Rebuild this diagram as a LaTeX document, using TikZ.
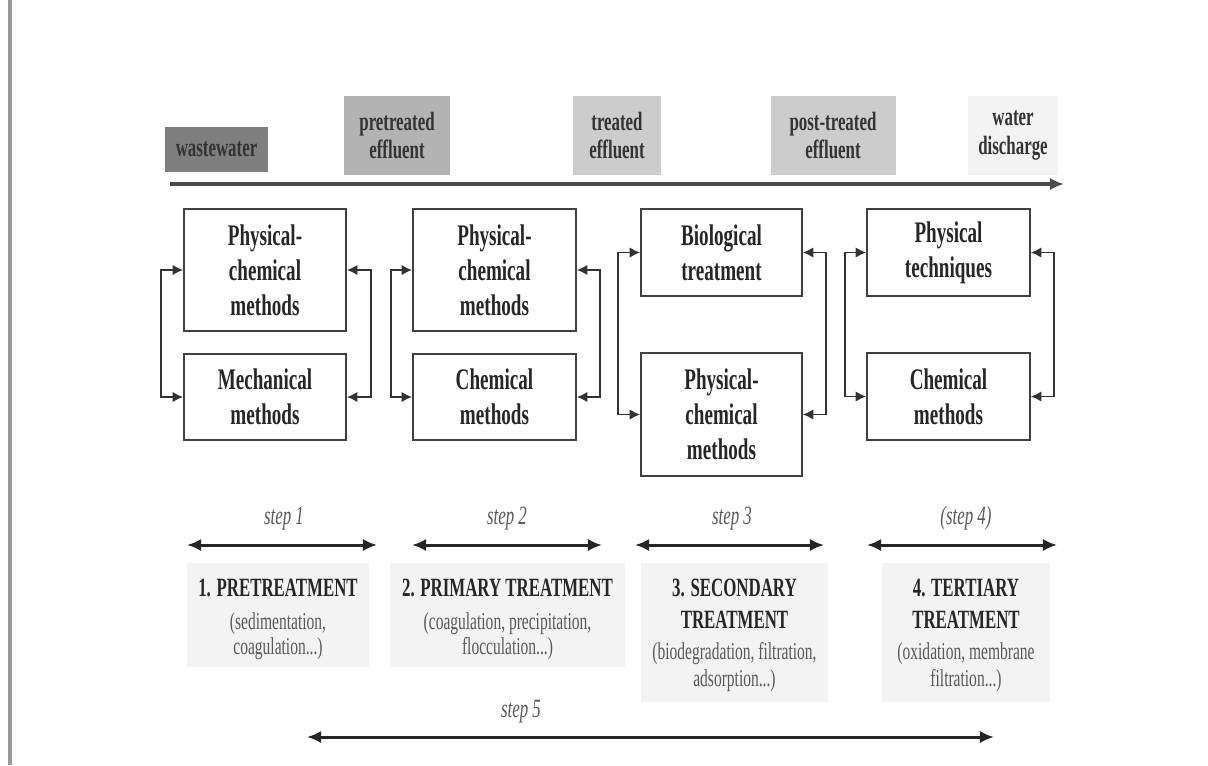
\documentclass[tikz,border=0pt]{standalone}
\usepackage{fontspec}
\setmainfont{Liberation Serif}[FakeStretch=0.64]
\usetikzlibrary{arrows.meta}
\definecolor{ww}{HTML}{7F7F7F}
\definecolor{pe}{HTML}{B3B3B3}
\definecolor{te}{HTML}{CCCCCC}
\definecolor{wd}{HTML}{F3F3F3}
\definecolor{lbox}{HTML}{F3F3F3}
\begin{document}
\begin{tikzpicture}[x=0.02cm,y=-0.02cm,
  topbox/.style={inner sep=0, align=center, text=black!80,
    font=\bfseries\fontsize{15}{16}\selectfont},
  mbox/.style={draw=black!75, line width=1pt, fill=white, inner sep=0,
    align=center, text=black!85, font=\bfseries\fontsize{17}{20}\selectfont},
  conn/.style={draw=black!80, line width=1pt,
    {Latex[length=6pt,width=6pt]}-{Latex[length=6pt,width=6pt]}},
  flow/.style={draw=black!70, line width=1.8pt, -{Latex[length=8pt,width=7pt]}},
  steparrow/.style={draw=black!85, line width=1.7pt,
    {Latex[length=8pt,width=7pt]}-{Latex[length=8pt,width=7pt]}},
  steplabel/.style={anchor=base, font=\itshape\fontsize{15}{16}\selectfont, text=black!65},
  lbox/.style={fill=lbox, inner sep=0},
  ltitle/.style={anchor=base, font=\bfseries\fontsize{15}{16}\selectfont, text=black!85},
  ltext/.style={anchor=base, font=\fontsize{13.8}{15}\selectfont, text=black!65}
]
\useasboundingbox (0,0) rectangle (1208,765);
\fill[white] (0,0) rectangle (1208,765);
% left border line
\draw[black!40, line width=1.8pt] (10,0) -- (10,765);

% top labels
\node[topbox, fill=ww, minimum width=103*0.02cm, minimum height=45*0.02cm] (ww) at (216.5,149.5) {wastewater};
\node[topbox, fill=pe, minimum width=106*0.02cm, minimum height=79*0.02cm] (pe) at (397,135.5) {pretreated\\effluent};
\node[topbox, fill=te, minimum width=88*0.02cm, minimum height=79*0.02cm] (te) at (617,135.5) {treated\\effluent};
\node[topbox, fill=te, minimum width=125*0.02cm, minimum height=79*0.02cm] (pt) at (833,135.5) {post-treated\\effluent};
\node[topbox, fill=wd, minimum width=90*0.02cm, minimum height=79*0.02cm] (wd) at (1013,135.5) {water\\discharge};

% main flow arrow
\coordinate (fs) at (170,184);
\coordinate (fe) at (1064,184);
\draw[flow] (fs) -- (fe);

% method boxes
\node[mbox, minimum width=162*0.02cm, minimum height=122*0.02cm] (A1) at (265,270) {Physical-\\chemical\\methods};
\node[mbox, minimum width=162*0.02cm, minimum height=86*0.02cm] (A2) at (265,397) {Mechanical\\methods};
\node[mbox, minimum width=163*0.02cm, minimum height=122*0.02cm] (B1) at (494.5,270) {Physical-\\chemical\\methods};
\node[mbox, minimum width=163*0.02cm, minimum height=86*0.02cm] (B2) at (494.5,397) {Chemical\\methods};
\node[mbox, minimum width=161*0.02cm, minimum height=87*0.02cm] (C1) at (721.5,252.5) {Biological\\treatment};
\node[mbox, minimum width=161*0.02cm, minimum height=123*0.02cm] (C2) at (721.5,414.5) {Physical-\\chemical\\methods};
\node[mbox, minimum width=163*0.02cm, minimum height=87*0.02cm] (D1) at (948.5,252.5) {Physical\\techniques};
\node[mbox, minimum width=163*0.02cm, minimum height=87*0.02cm] (D2) at (948.5,396.5) {Chemical\\methods};

% bracket connectors
\draw[conn] (A1.west) -- ++(-22,0) |- (A2.west);
\draw[conn] (A1.east) -- ++(24,0) |- (A2.east);
\draw[conn] (B1.west) -- ++(-21,0) |- (B2.west);
\draw[conn] (B1.east) -- ++(23,0) |- (B2.east);
\draw[conn] (C1.west) -- ++(-22,0) |- (C2.west);
\draw[conn] (C1.east) -- ++(23,0) |- (C2.east);
\draw[conn] (D1.west) -- ++(-21,0) |- (D2.west);
\draw[conn] (D1.east) -- ++(23,0) |- (D2.east);

% step arrows
\coordinate (s1a) at (187,545); \coordinate (s1b) at (377,545);
\coordinate (s2a) at (412,545); \coordinate (s2b) at (602,545);
\coordinate (s3a) at (635,545); \coordinate (s3b) at (824,545);
\coordinate (s4a) at (867,545); \coordinate (s4b) at (1057,545);
\coordinate (s5a) at (307,737); \coordinate (s5b) at (994,737);
\draw[steparrow] (s1a) -- (s1b);
\draw[steparrow] (s2a) -- (s2b);
\draw[steparrow] (s3a) -- (s3b);
\draw[steparrow] (s4a) -- (s4b);
\draw[steparrow] (s5a) -- (s5b);
\node[steplabel] (l1) at (284,524) {step 1};
\node[steplabel] (l2) at (507,524) {step 2};
\node[steplabel] (l3) at (732,524) {step 3};
\node[steplabel] (l4) at (966,524) {(step 4)};
\node[steplabel] (l5) at (521,717) {step 5};

% treatment boxes
\node[lbox, minimum width=182*0.02cm, minimum height=104*0.02cm] (T1) at (278,615) {};
\node[lbox, minimum width=235*0.02cm, minimum height=104*0.02cm] (T2) at (507.5,615) {};
\node[lbox, minimum width=187*0.02cm, minimum height=139*0.02cm] (T3) at (734.5,632.5) {};
\node[lbox, minimum width=168*0.02cm, minimum height=139*0.02cm] (T4) at (966,632.5) {};

\node[ltitle] (t1a) at (278,596) {1. PRETREATMENT};
\node[ltext] (t1b) at (278,629) {(sedimentation,};
\node[ltext] (t1c) at (278,654) {coagulation...)};

\node[ltitle] (t2a) at (507.5,596) {2. PRIMARY TREATMENT};
\node[ltext] (t2b) at (507.5,629) {(coagulation, precipitation,};
\node[ltext] (t2c) at (507.5,654) {flocculation...)};

\node[ltitle] (t3a) at (734.5,596) {3. SECONDARY};
\node[ltitle] (t3b) at (734.5,628) {TREATMENT};
\node[ltext] (t3c) at (734.5,659) {(biodegradation, filtration,};
\node[ltext] (t3d) at (734.5,686) {adsorption...)};

\node[ltitle] (t4a) at (966,596) {4. TERTIARY};
\node[ltitle] (t4b) at (966,628) {TREATMENT};
\node[ltext] (t4c) at (966,659) {(oxidation, membrane};
\node[ltext] (t4d) at (966,686) {filtration...)};
\end{tikzpicture}
\end{document}
